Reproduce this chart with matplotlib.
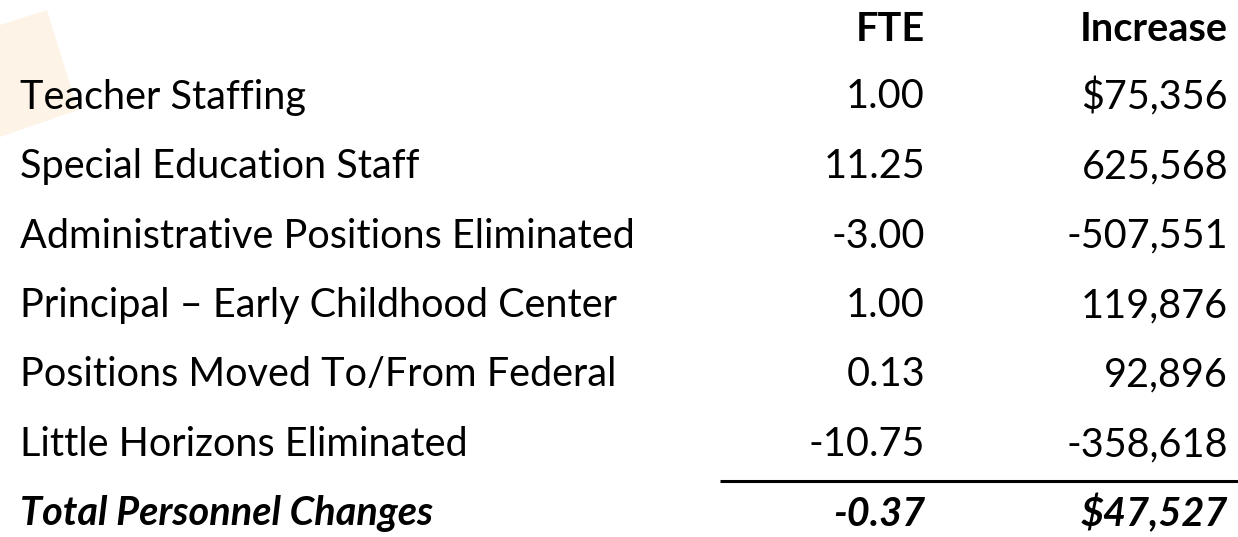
import matplotlib
matplotlib.use("Agg")
import matplotlib.pyplot as plt
from matplotlib.patches import Polygon

# ---- data ----
categories = [
    "Teacher Staffing",
    "Special Education Staff",
    "Administrative Positions Eliminated",
    "Principal \u2013 Early Childhood Center",
    "Positions Moved To/From Federal",
    "Little Horizons Eliminated",
]
fte = ["1.00", "11.25", "-3.00", "1.00", "0.13", "-10.75"]
increase = ["$75,356", "625,568", "-507,551", "119,876", "92,896", "-358,618"]
headers = ["FTE", "Increase"]
total_label = "Total Personnel Changes"
total_fte = "-0.37"
total_increase = "$47,527"

W, H = 1238, 537
fig = plt.figure(figsize=(W / 100, H / 100), dpi=100)
ax = fig.add_axes([0, 0, 1, 1])
ax.set_xlim(0, W)
ax.set_ylim(H, 0)
ax.axis("off")

FONT = "Lato"
FS = 28.5

# faint decorative shape
ax.add_patch(Polygon([(0, 25), (47, 10), (78, 110), (0, 137)], closed=True,
                     facecolor="#FDF3E7", edgecolor="none", zorder=0))

x_label, x_fte, x_inc = 20, 925, 1228
row_h = 69.5
y_total = 514
y_rows = [y_total - row_h * (len(categories) - i) for i in range(len(categories))]
y_head = y_rows[0] - row_h + 2

for h, x in zip(headers, [x_fte, x_inc]):
    ax.text(x, y_head, h, ha="right", va="center", fontsize=FS, family=FONT,
            fontweight="bold", color="black")

for y, c, f, v in zip(y_rows, categories, fte, increase):
    ax.text(x_label, y, c, ha="left", va="center", fontsize=FS, family=FONT, color="black")
    ax.text(x_fte, y, f, ha="right", va="center", fontsize=FS, family=FONT, color="black")
    ax.text(x_inc, y, v, ha="right", va="center", fontsize=FS, family=FONT, color="black")

ax.plot([720, W], [481, 481], color="black", lw=2.2, solid_capstyle="butt")

for x, t, ha in [(x_label, total_label, "left"), (x_fte, total_fte, "right"),
                 (x_inc, total_increase, "right")]:
    ax.text(x, y_total, t, ha=ha, va="center", fontsize=FS, family=FONT,
            fontweight="bold", fontstyle="italic", color="black")

fig.savefig("out.png", dpi=100, facecolor="white")
